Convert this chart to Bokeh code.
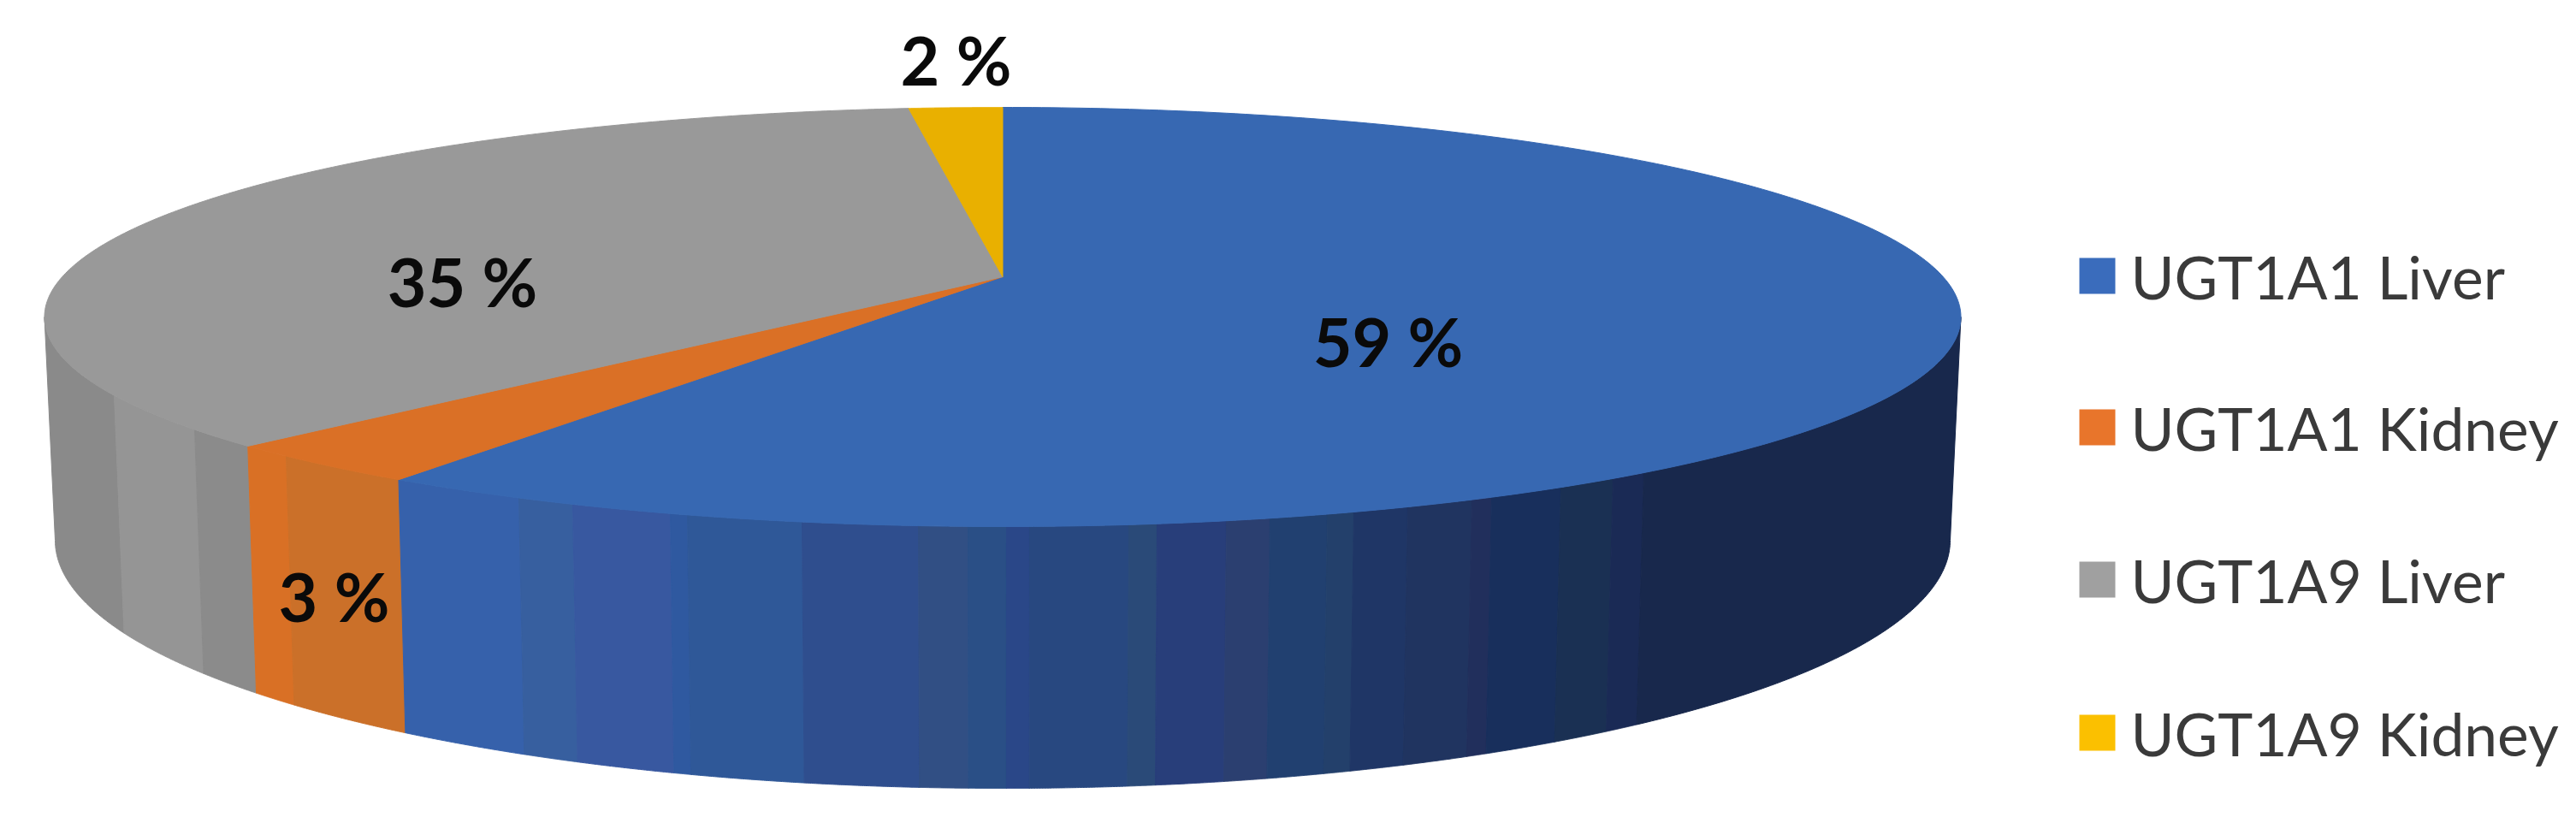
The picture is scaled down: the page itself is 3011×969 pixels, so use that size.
import numpy as np
from bokeh.plotting import figure
from bokeh.models import ColumnDataSource, Range1d
from bokeh.core.properties import value
from bokeh.embed import file_html
from bokeh.resources import INLINE

# ---- data ----
categories = ["UGT1A1 Liver", "UGT1A1 Kidney", "UGT1A9 Liver", "UGT1A9 Kidney"]
shares = [59.05, 3.1, 35.95, 1.9]        # drawn angular shares (percent, clockwise from 12 o'clock)
labels = ["59 %", "3 %", "35 %", "2 %"]

top_colors = ["#3768b2", "#da7026", "#999999", "#e9b000"]
legend_colors = ["#3a6cbc", "#e8752b", "#a0a0a0", "#fbc000"]

# ---- layout (pixels of the reference picture) ----
W, H = 2995, 953
CX, TOP_YC, TOP_A, TOP_B, APEX_Y = 1171.5, 370.0, 1120.0, 245.0, 323.0
BOT_YC, BOT_A, BOT_B = 631.0, 1107.5, 290.0

label_xy = [(1622, 398), (390, 696), (540, 328), (1117, 69)]
LABEL_SIZE = "79px"
LEGEND_SIZE = "69.5px"
legend_y = [322, 499, 677, 856]
legend_box_x, legend_text_x = 2451, 2490

# shading bands of the side wall: inner band edges (px along the top rim) and colours
gray_bands = [133, 227]
gray_cols = ["#8a8a8a", "#959595", "#8b8b8b"]
orange_bands = [334]
orange_cols = ["#d97025", "#cb7029"]
blue_bands = [606, 669, 783, 803, 937, 1073, 1131, 1176, 1203, 1319, 1352, 1433, 1484,
              1551, 1582, 1645, 1720, 1743, 1824, 1885, 1921]
blue_cols = ["#3661ab", "#375f9f", "#3858a0", "#2f59a0", "#2f5898", "#2f4e8e", "#314f84",
             "#2a4f86", "#2a4788", "#284880", "#2a4a78", "#283e7a", "#2b3f70", "#214070",
             "#23406b", "#1f3666", "#203460", "#212f5c", "#182f5c", "#1a3053", "#1a2a55", "#18284c"]

# perspective disc -> ellipse whose centre projects to APEX_Y
k = (TOP_YC - APEX_Y) / TOP_B
C = TOP_A * np.sqrt(1 - k ** 2)


def project(theta):
    X, Y = np.sin(theta), np.cos(theta)
    den = 1 + k * Y
    return CX + C * X / den, TOP_YC - TOP_B * (Y + k) / den


cum = np.concatenate([[0], np.cumsum(shares)]) / np.sum(shares) * 2 * np.pi

top_xs, top_ys = [], []
for i in range(len(shares)):
    th = np.linspace(cum[i], cum[i + 1], 300)
    x, y = project(th)
    top_xs.append(np.concatenate([[CX], x]).tolist())
    top_ys.append(np.concatenate([[APEX_Y], y]).tolist())

edge_blue_orange = float(project(cum[1])[0])
edge_orange_gray = float(project(cum[2])[0])

edges = [CX - TOP_A] + gray_bands + [edge_orange_gray] + orange_bands + [edge_blue_orange] + blue_bands + [CX + TOP_A]
wall_cols = gray_cols + orange_cols + blue_cols

wall_xs, wall_ys = [], []
for x0, x1 in zip(edges[:-1], edges[1:]):
    t = np.linspace(np.arccos((x0 - CX) / TOP_A), np.arccos((x1 - CX) / TOP_A), 80)
    u, s = np.cos(t), np.sin(t)
    wall_xs.append(np.concatenate([CX + TOP_A * u, (CX + BOT_A * u)[::-1]]).tolist())
    wall_ys.append(np.concatenate([TOP_YC + TOP_B * s, (BOT_YC + BOT_B * s)[::-1]]).tolist())

p = figure(width=W, height=H, output_backend="svg", toolbar_location=None,
           x_range=Range1d(0, W), y_range=Range1d(H, 0),
           min_border=0, outline_line_color=None, background_fill_color="white",
           border_fill_color="white")
p.axis.visible = False
p.grid.visible = False

p.patches(wall_xs, wall_ys, fill_color=wall_cols, line_color=wall_cols, line_width=1)
p.patches(top_xs, top_ys, fill_color=top_colors, line_color=top_colors, line_width=1)

p.text([a for a, _ in label_xy], [b for _, b in label_xy], text=labels,
       text_font=value("Lato"), text_font_style="bold", text_font_size=value(LABEL_SIZE),
       text_color="#0a0a0a", text_align="center", text_baseline="middle")

p.rect([legend_box_x] * 4, legend_y, width=42, height=42, fill_color=legend_colors, line_color=None)
p.text([legend_text_x] * 4, legend_y, text=categories,
       text_font=value("Lato"), text_font_size=value(LEGEND_SIZE),
       text_color="#3a3a3a", text_align="left", text_baseline="middle")

open("out.html", "w").write(file_html(p, INLINE))
